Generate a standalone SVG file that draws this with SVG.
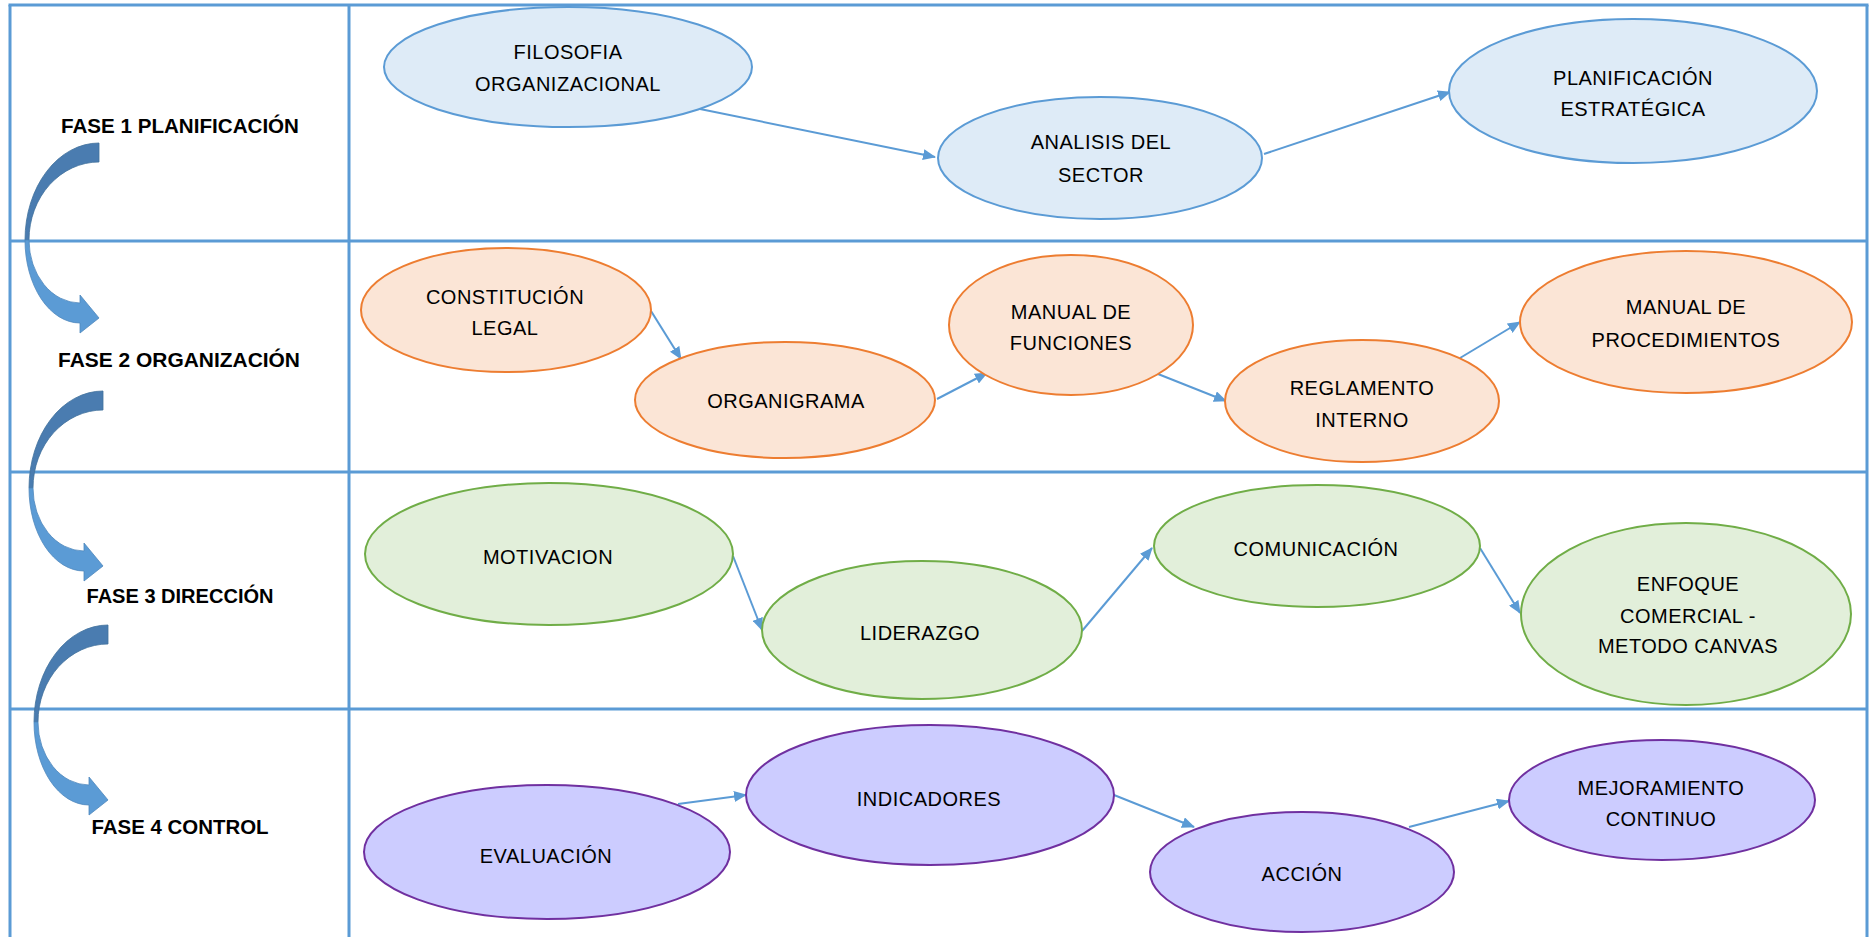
<svg xmlns="http://www.w3.org/2000/svg" width="1870" height="937" viewBox="0 0 1870 937">
<style>
.grid{stroke:#5b9bd5;stroke-width:3;fill:none}
.phase{font-family:"Liberation Sans",Arial,sans-serif;font-weight:bold;font-size:20px;fill:#000;text-anchor:middle}
.lbl{font-family:"Liberation Sans",Arial,sans-serif;font-size:20px;fill:#000;text-anchor:middle;letter-spacing:0.5px}
.blue{fill:#deebf7;stroke:#5b9bd5;stroke-width:2}
.orange{fill:#fbe5d6;stroke:#ed7d31;stroke-width:2}
.green{fill:#e2efda;stroke:#70ad47;stroke-width:2}
.purple{fill:#ccccff;stroke:#7030a0;stroke-width:2}
.conn line{stroke:#5b9bd5;stroke-width:2;marker-end:url(#ah)}
</style>
<defs>
<marker id="ah" markerUnits="userSpaceOnUse" markerWidth="13" markerHeight="11" viewBox="0 0 13 11" refX="12" refY="5.5" orient="auto">
<path d="M0,0 L13,5.5 L0,11 z" fill="#5b9bd5"/>
</marker>
<g id="curved">
<path d="M0,0 A74,97 0 0 0 -74,97 L-70,97 A70,78 0 0 1 0,19 Z" fill="#4a7cb0" stroke="#41719c" stroke-width="0.8"/>
<path d="M-74,97 A55,83 0 0 0 -19,180 L-19,190 L0,175 L-19,152 L-19,160 A51,63 0 0 1 -70,97 Z" fill="#5b9bd5" stroke="#4f88bd" stroke-width="0.8"/>
</g>
</defs>
<rect width="1870" height="937" fill="#fff"/>
<g id="table">
<line class="grid" x1="8.5" y1="5" x2="1868.5" y2="5"/>
<line class="grid" x1="10" y1="5" x2="10" y2="937"/>
<line class="grid" x1="349" y1="5" x2="349" y2="937"/>
<line class="grid" x1="1867" y1="5" x2="1867" y2="937"/>
<line class="grid" x1="10" y1="241" x2="1867" y2="241"/>
<line class="grid" x1="10" y1="472" x2="1867" y2="472"/>
<line class="grid" x1="10" y1="709" x2="1867" y2="709"/>
</g>
<g id="phases">
<text class="phase" x="180" y="133" textLength="238" lengthAdjust="spacingAndGlyphs">FASE 1 PLANIFICACIÓN</text>
<text class="phase" x="179" y="367" textLength="242" lengthAdjust="spacingAndGlyphs">FASE 2 ORGANIZACIÓN</text>
<text class="phase" x="180" y="603" textLength="187" lengthAdjust="spacingAndGlyphs">FASE 3 DIRECCIÓN</text>
<text class="phase" x="180" y="834" textLength="177" lengthAdjust="spacingAndGlyphs">FASE 4 CONTROL</text>
</g>
<g id="phase-arrows">
<use href="#curved" transform="translate(99,143)"/>
<use href="#curved" transform="translate(103,391)"/>
<use href="#curved" transform="translate(108,625)"/>
</g>
<g class="conn" id="connectors">
<line x1="700" y1="109" x2="935" y2="157"/>
<line x1="1264" y1="154" x2="1450" y2="92"/>
<line x1="651" y1="311" x2="681" y2="359"/>
<line x1="937" y1="399" x2="987" y2="373"/>
<line x1="1158" y1="374" x2="1226" y2="401"/>
<line x1="1460" y1="358" x2="1520" y2="322"/>
<line x1="733" y1="556" x2="762" y2="630"/>
<line x1="1082" y1="631" x2="1152" y2="548"/>
<line x1="1480" y1="548" x2="1520" y2="613"/>
<line x1="678" y1="804" x2="746" y2="795"/>
<line x1="1114" y1="795" x2="1194" y2="827"/>
<line x1="1409" y1="827" x2="1509" y2="801"/>
</g>
<g id="n-filosofia"><ellipse class="blue" cx="568" cy="67" rx="184" ry="60"/><text class="lbl" x="568" y="59">FILOSOFIA</text><text class="lbl" x="568" y="91">ORGANIZACIONAL</text></g>
<g id="n-analisis"><ellipse class="blue" cx="1100" cy="158" rx="162" ry="61"/><text class="lbl" x="1101" y="149">ANALISIS  DEL</text><text class="lbl" x="1101" y="182">SECTOR</text></g>
<g id="n-planificacion"><ellipse class="blue" cx="1633" cy="91" rx="184" ry="72"/><text class="lbl" x="1633" y="85">PLANIFICACIÓN</text><text class="lbl" x="1633" y="116">ESTRATÉGICA</text></g>
<g id="n-constitucion"><ellipse class="orange" cx="506" cy="310" rx="145" ry="62"/><text class="lbl" x="505" y="304">CONSTITUCIÓN</text><text class="lbl" x="505" y="335">LEGAL</text></g>
<g id="n-organigrama"><ellipse class="orange" cx="785" cy="400" rx="150" ry="58"/><text class="lbl" x="786" y="408">ORGANIGRAMA</text></g>
<g id="n-manual-funciones"><ellipse class="orange" cx="1071" cy="325" rx="122" ry="70"/><text class="lbl" x="1071" y="319">MANUAL  DE</text><text class="lbl" x="1071" y="350">FUNCIONES</text></g>
<g id="n-reglamento"><ellipse class="orange" cx="1362" cy="401" rx="137" ry="61"/><text class="lbl" x="1362" y="395">REGLAMENTO</text><text class="lbl" x="1362" y="427">INTERNO</text></g>
<g id="n-manual-procedimientos"><ellipse class="orange" cx="1686" cy="322" rx="166" ry="71"/><text class="lbl" x="1686" y="314">MANUAL  DE</text><text class="lbl" x="1686" y="347">PROCEDIMIENTOS</text></g>
<g id="n-motivacion"><ellipse class="green" cx="549" cy="554" rx="184" ry="71"/><text class="lbl" x="548" y="564">MOTIVACION</text></g>
<g id="n-liderazgo"><ellipse class="green" cx="922" cy="630" rx="160" ry="69"/><text class="lbl" x="920" y="640">LIDERAZGO</text></g>
<g id="n-comunicacion"><ellipse class="green" cx="1317" cy="546" rx="163" ry="61"/><text class="lbl" x="1316" y="556">COMUNICACIÓN</text></g>
<g id="n-enfoque"><ellipse class="green" cx="1686" cy="614" rx="165" ry="91"/><text class="lbl" x="1688" y="591">ENFOQUE</text><text class="lbl" x="1688" y="623">COMERCIAL  -</text><text class="lbl" x="1688" y="653">METODO  CANVAS</text></g>
<g id="n-evaluacion"><ellipse class="purple" cx="547" cy="852" rx="183" ry="67"/><text class="lbl" x="546" y="863">EVALUACIÓN</text></g>
<g id="n-indicadores"><ellipse class="purple" cx="930" cy="795" rx="184" ry="70"/><text class="lbl" x="929" y="806">INDICADORES</text></g>
<g id="n-accion"><ellipse class="purple" cx="1302" cy="872" rx="152" ry="60"/><text class="lbl" x="1302" y="881">ACCIÓN</text></g>
<g id="n-mejoramiento"><ellipse class="purple" cx="1662" cy="800" rx="153" ry="60"/><text class="lbl" x="1661" y="795">MEJORAMIENTO</text><text class="lbl" x="1661" y="826">CONTINUO</text></g>
</svg>
